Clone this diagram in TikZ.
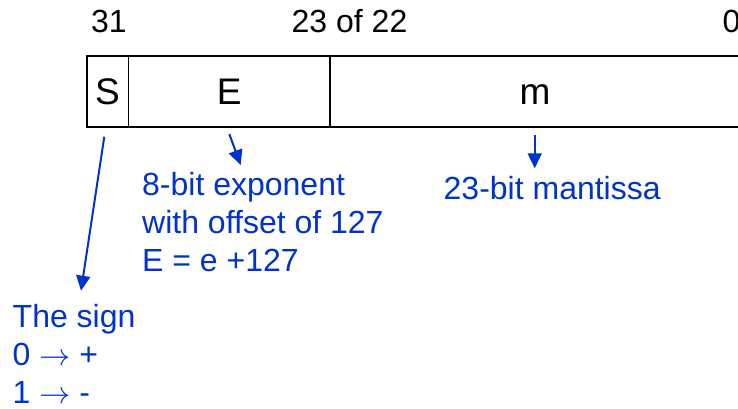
\documentclass[tikz,border=0pt]{standalone}
\usepackage{fontspec}
\usepackage{graphicx}
\setmainfont{Liberation Sans}
\usetikzlibrary{arrows.meta}
\definecolor{myblue}{RGB}{0,51,204}
\newcommand{\bigto}{\scalebox{1.25}{$\rightarrow$}}
\begin{document}
\begin{tikzpicture}[x=1pt,y=-1pt,
  cell/.style={draw=black,line width=1.6pt,minimum height=70.7pt,inner sep=0pt,
    text height=26.5pt,text depth=0pt,font=\fontsize{37}{44}\selectfont},
  bitno/.style={anchor=base west,inner sep=0pt,font=\fontsize{32}{38}\selectfont},
  note/.style={anchor=north west,inner sep=0pt,align=left,text=myblue,
    font=\fontsize{32}{38}\selectfont},
  arr/.style={draw=myblue,line width=2pt,-{Triangle[length=15pt,width=14pt]}}]
\useasboundingbox (0,0) rectangle (738,408);
% bit numbers
\node[bitno] (b31) at (91,32) {31};
\node[bitno] (b23) at (291.5,32) {23 of 22};
\node[bitno] (b0) at (722.5,32) {0};
% cells
\node[cell,minimum width=41.6pt] (S) at (107.5,91.5) {S};
\node[cell,minimum width=201.7pt] (E) at (229.15,91.5) {E};
\node[cell,minimum width=410pt] (m) at (535,91.5) {m};
% notes
\node[note] (sign) at (12.5,304.5) {The sign\\0 \bigto{} +\\1 \bigto{} -};
\node[note] (expo) at (142,172) {8-bit exponent\\with offset of 127\\E = e +127};
\node[note] (mant) at (443.5,176) {23-bit mantissa};
% arrows
\coordinate (sa) at (104.3,136.7); \coordinate (sb) at (81,290.7);
\coordinate (ea) at (229.3,134);   \coordinate (eb) at (240.7,165);
\coordinate (ma) at (534.7,135);   \coordinate (mb) at (534.7,168.3);
\draw[arr] (sa) -- (sb);
\draw[arr] (ea) -- (eb);
\draw[arr] (ma) -- (mb);
\end{tikzpicture}
\end{document}
